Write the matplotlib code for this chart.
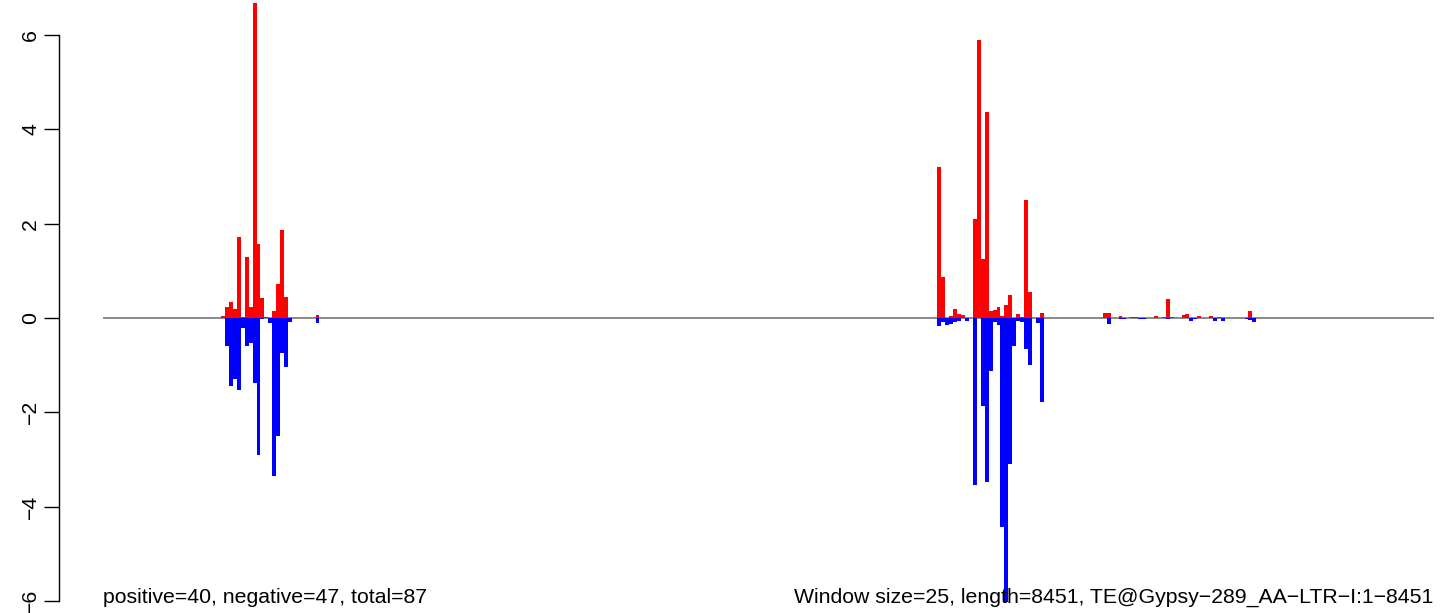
import numpy as np
import matplotlib
matplotlib.use("Agg")
import matplotlib.pyplot as plt

plt.rcParams['font.family'] = ['Liberation Sans', 'DejaVu Sans']

window = 25
length = 8451

# window index -> value
pos_win = [1, 2,
           30, 31, 32, 33, 34, 35, 36, 37, 38, 39, 40, 41, 43, 44, 45, 46, 54,
           212, 213, 215, 216, 217, 218, 221, 222, 223, 224, 225, 226, 227, 228,
           229, 230, 232, 233, 234, 235, 238,
           254, 255, 258, 261, 262, 267, 269, 270, 271, 274, 275, 278, 281, 283, 291]
pos_val = [0.01, 0.01,
           0.04, 0.23, 0.34, 0.19, 1.72, 0.02, 1.30, 0.23, 6.68, 1.57, 0.43, 0.02, 0.15, 0.72, 1.87, 0.45, 0.06,
           3.21, 0.87, 0.04, 0.19, 0.09, 0.07, 2.09, 5.89, 1.26, 4.36, 0.15, 0.17, 0.23, 0.04,
           0.28, 0.49, 0.09, 0.02, 2.51, 0.55, 0.11,
           0.10, 0.10, 0.04, 0.02, 0.02, 0.04, 0.02, 0.40, 0.02, 0.06, 0.08, 0.04, 0.04, 0.02, 0.15]

neg_win = [31, 32, 33, 34, 35, 36, 37, 38, 39, 40, 42, 43, 44, 45, 46, 47, 54,
           212, 213, 214, 215, 216, 217, 219, 221, 223, 224, 225, 226, 227, 228,
           229, 230, 231, 232, 233, 234, 235, 237, 238,
           255, 258, 259, 263, 264, 270, 276, 277, 282, 284, 290, 291, 292]
neg_val = [-0.59, -1.44, -1.29, -1.52, -0.21, -0.59, -0.52, -1.38, -2.91, -0.02, -0.11, -3.35, -2.50, -0.74, -1.04, -0.08, -0.10,
           -0.17, -0.09, -0.15, -0.13, -0.09, -0.06, -0.06, -3.55, -1.87, -3.48, -1.13, -0.09, -0.15, -4.44,
           -6.03, -3.10, -0.59, -0.06, -0.09, -0.65, -0.99, -0.11, -1.78,
           -0.13, -0.02, -0.02, -0.02, -0.02, -0.02, -0.06, -0.02, -0.06, -0.06, -0.02, -0.04, -0.08]

n_pos, n_neg = 40, 47

fig = plt.figure(figsize=(14.44, 6.13), dpi=100)
ax = fig.add_axes([59 / 1444, 0, 1 - 59 / 1444, 1])

ax.hlines(0, 0, length, color='#808080', lw=1.3, zorder=1)
ax.bar(np.array(pos_win) * window, pos_val, width=window, align='edge',
       color='#ff0000', linewidth=0, antialiased=False, zorder=2)
ax.bar(np.array(neg_win) * window, neg_val, width=window, align='edge',
       color='#0000ff', linewidth=0, antialiased=False, zorder=2)

ax.set_xlim(-279.5, 8517)
ax.set_ylim(-6.254, 6.742)

for s in ['top', 'right', 'bottom']:
    ax.spines[s].set_visible(False)
ax.spines['left'].set_bounds(-6, 6)
ax.spines['left'].set_linewidth(1.0)
ax.set_xticks([])
ax.set_yticks(range(-6, 7, 2))
ax.tick_params(axis='y', length=10.5, width=1.0, labelsize=15.3, pad=3)
for lab in ax.get_yticklabels():
    lab.set_rotation(90)
    lab.set_va('center')

ax.text(0, -6.04, f"positive={n_pos}, negative={n_neg}, total={n_pos + n_neg}",
        ha='left', va='baseline', fontsize=15.3)
ax.text(length, -6.04,
        f"Window size={window}, length={length}, TE@Gypsy\u2212289_AA\u2212LTR\u2212I:1\u2212{length}",
        ha='right', va='baseline', fontsize=15.3)

fig.savefig("out.png", dpi=100)
